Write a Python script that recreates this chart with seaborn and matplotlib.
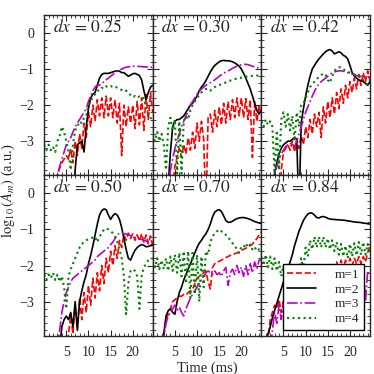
import numpy as np
import pandas as pd
import matplotlib
matplotlib.use('Agg')
import matplotlib.pyplot as plt
from matplotlib.ticker import MultipleLocator, FixedLocator
import seaborn as sns

# time axis (ms), shared by every curve
time_ms = [0.0, 0.5, 1.0, 1.5, 2.0, 2.5, 3.0, 3.5, 4.0, 4.5,
           5.0, 5.5, 6.0, 6.5, 7.0, 7.5, 8.0, 8.5, 9.0, 9.5,
           10.0, 10.5, 11.0, 11.5, 12.0, 12.5, 13.0, 13.5, 14.0, 14.5,
           15.0, 15.5, 16.0, 16.5, 17.0, 17.5, 18.0, 18.5, 19.0, 19.5,
           20.0, 20.5, 21.0, 21.5, 22.0, 22.5, 23.0, 23.5, 24.0, 24.5]

panel_dx = ["0.25", "0.30", "0.42", "0.50", "0.70", "0.84"]
mode_labels = ["m=1", "m=2", "m=3", "m=4"]
x_ticks = [5, 10, 15, 20]
y_ticks = [0, -1, -2, -3]

# log10(A_m) (-5 = below the axis)
# dx = 0.25
m1_025 = [-5, -5, -5, -5, -5, -5, -3.9, -3.75, -3.6, -3.5,
          -3.4, -3.5, -3.2, -3.6, -3.0, -3.4, -2.8, -3.2, -2.5, -2.9,
          -2.2, -2.6, -2.0, -2.45, -1.85, -2.3, -1.8, -2.35, -1.75, -2.3,
          -1.8, -2.35, -1.85, -2.5, -1.95, -3.4, -2.0, -2.6, -2.05, -2.5,
          -2.0, -2.65, -1.9, -2.55, -1.8, -2.7, -1.7, -2.4, -1.65, -2.2]
m2_025 = [-5, -5, -5, -5, -5, -5, -5, -5, -5, -5,
          -5, -5, -5, -5, -3.8, -3.1, -3.05, -3.0, -3.3, -2.6,
          -2.1, -1.8, -1.7, -1.65, -1.45, -1.25, -1.15, -1.12, -1.12, -1.12,
          -1.1, -1.08, -1.06, -1.05, -1.06, -1.1, -1.1, -1.15, -1.2, -1.17,
          -1.13, -1.12, -1.15, -1.18, -1.3, -1.6, -1.85, -1.65, -1.5, -1.45]
m3_025 = [-5, -5, -5, -5, -5, -5, -4.0, -3.7, -3.5, -3.3,
          -3.1, -3.0, -2.9, -2.75, -2.6, -2.5, -2.4, -2.3, -2.2, -2.1,
          -1.9, -1.75, -1.6, -1.5, -1.45, -1.45, -1.4, -1.35, -1.3, -1.25,
          -1.2, -1.15, -1.1, -1.06, -1.03, -1.0, -0.97, -0.95, -0.94, -0.93,
          -0.92, -0.92, -0.92, -0.93, -0.93, -0.94, -0.94, -0.95, -0.95, -0.95]
m4_025 = [-3.1, -3.25, -3.1, -3.25, -3.15, -3.3, -3.0, -2.85, -2.6, -2.75,
          -3.0, -3.3, -3.8, -3.1, -2.7, -2.6, -2.45, -2.5, -2.35, -2.3,
          -2.0, -1.9, -1.75, -1.7, -1.6, -1.6, -1.52, -1.55, -1.48, -1.5,
          -1.47, -1.5, -1.48, -1.52, -1.55, -1.58, -1.62, -1.6, -1.68, -1.72,
          -1.78, -1.75, -1.8, -1.76, -1.82, -1.8, -2.05, -2.2, -2.35, -2.4]

# dx = 0.30
m1_030 = [-5, -5, -5, -5, -5, -5, -5, -5, -5, -4.3,
          -3.7, -3.45, -3.2, -3.45, -3.1, -3.35, -2.9, -3.25, -2.75, -3.2,
          -2.5, -3.0, -2.45, -2.95, -5.0, -2.35, -2.25, -2.75, -2.15, -2.6,
          -2.05, -2.55, -1.95, -2.5, -1.9, -2.4, -1.85, -2.35, -1.8, -2.3,
          -1.8, -2.35, -1.82, -2.4, -1.85, -3.45, -1.9, -2.45, -2.0, -2.3]
m2_030 = [-5, -5, -5, -5, -5, -5, -5, -4.2, -3.3, -2.6,
          -2.45, -2.4, -2.4, -2.35, -2.3, -2.2, -2.1, -2.0, -1.95, -1.85,
          -1.75, -1.6, -1.5, -1.42, -1.32, -1.2, -1.08, -0.98, -0.9, -0.85,
          -0.8, -0.77, -0.76, -0.77, -0.77, -0.78, -0.8, -0.83, -0.87, -0.92,
          -1.0, -1.12, -1.25, -1.4, -1.55, -1.75, -1.95, -2.15, -2.25, -2.15]
m3_030 = [-5, -5, -5, -5, -5, -5, -5, -4.1, -3.8, -3.5,
          -3.2, -3.0, -2.8, -2.6, -2.45, -2.3, -2.15, -2.0, -1.9, -1.8,
          -1.7, -1.62, -1.55, -1.5, -1.45, -1.42, -1.38, -1.34, -1.3, -1.25,
          -1.2, -1.16, -1.12, -1.08, -1.05, -1.02, -0.98, -0.95, -0.92, -0.9,
          -0.88, -0.87, -0.87, -0.88, -0.9, -0.92, -0.94, -0.96, -0.97, -0.98]
m4_030 = [-2.8, -3.0, -2.75, -3.0, -2.8, -3.1, -3.8, -2.6, -2.35, -2.7,
          -2.4, -3.9, -2.45, -3.9, -2.45, -2.3, -2.4, -2.15, -2.0, -1.9,
          -1.8, -1.72, -1.65, -1.6, -1.55, -1.55, -1.6, -1.55, -1.5, -1.47,
          -1.45, -1.42, -1.4, -1.37, -1.34, -1.32, -1.3, -1.28, -1.26, -1.25,
          -1.24, -1.22, -1.21, -1.2, -1.19, -1.19, -1.18, -1.18, -1.18, -1.18]

# dx = 0.42
m1_042 = [-5, -5, -5, -5, -5, -5, -5, -5, -5, -3.8,
          -3.3, -3.2, -3.1, -3.25, -3.0, -3.3, -2.95, -3.2, -2.85, -3.1,
          -2.6, -2.9, -2.4, -2.8, -2.25, -2.6, -2.2, -2.9, -2.05, -2.5,
          -1.9, -2.35, -1.8, -2.25, -1.65, -2.1, -1.55, -1.95, -1.45, -1.8,
          -1.35, -1.65, -1.25, -1.55, -1.15, -1.45, -1.1, -1.35, -1.05, -1.3]
m2_042 = [-5, -5, -5, -5, -5, -4.3, -3.9, -3.6, -3.35, -3.2,
          -3.1, -3.05, -3.0, -3.0, -2.95, -2.9, -2.95, -5.0, -2.5, -2.1,
          -1.75, -1.45, -1.2, -1.0, -0.9, -0.8, -0.72, -0.65, -0.58, -0.52,
          -0.48, -0.46, -0.5, -0.58, -0.55, -0.52, -0.55, -0.62, -0.65, -0.72,
          -0.9, -1.1, -1.2, -1.25, -1.3, -1.32, -1.35, -1.4, -1.45, -1.35]
m3_042 = [-5, -5, -5, -5, -5, -4.2, -3.9, -3.7, -3.5, -3.35,
          -3.25, -3.15, -3.1, -3.05, -3.1, -3.15, -3.0, -2.8, -2.6, -2.4,
          -2.2, -2.05, -1.9, -1.75, -1.62, -1.5, -1.42, -1.35, -1.3, -1.25,
          -1.2, -1.15, -1.1, -1.08, -1.06, -1.05, -1.05, -1.06, -1.08, -1.1,
          -1.12, -1.14, -1.16, -1.18, -1.2, -1.2, -1.22, -1.23, -1.24, -1.25]
m4_042 = [-2.45, -2.6, -2.4, -2.55, -2.45, -2.6, -3.9, -2.7, -3.8, -2.4,
          -2.2, -2.6, -2.25, -2.7, -2.3, -3.0, -2.2, -2.6, -2.0, -1.95,
          -1.8, -1.65, -1.5, -1.42, -1.35, -1.28, -1.22, -1.17, -1.12, -1.15,
          -1.3, -1.38, -1.2, -1.05, -0.98, -0.95, -0.95, -1.0, -1.05, -1.08,
          -1.1, -1.12, -1.15, -1.17, -1.2, -1.23, -1.3, -1.4, -1.42, -1.3]

# dx = 0.50
m1_050 = [-5, -5, -5, -5, -5, -5, -5, -5, -5, -5,
          -4.2, -3.9, -3.4, -3.9, -3.1, -3.7, -2.9, -3.5, -2.75, -3.3,
          -2.55, -3.1, -2.35, -2.9, -2.2, -2.7, -2.0, -2.5, -1.8, -2.2,
          -1.6, -2.0, -1.45, -1.8, -1.3, -1.5, -1.15, -1.3, -1.1, -1.25,
          -1.12, -1.3, -1.15, -1.32, -1.12, -1.35, -1.15, -1.4, -1.18, -1.45]
m2_050 = [-5, -5, -5, -5, -5, -5, -5, -4.3, -3.7, -3.5,
          -3.4, -3.5, -3.3, -3.7, -3.0, -3.8, -3.0, -2.7, -2.45, -2.25,
          -1.95, -1.72, -1.45, -1.15, -0.85, -0.6, -0.48, -0.43, -0.45, -0.6,
          -0.72, -0.62, -0.56, -0.6, -0.72, -0.95, -1.25, -1.55, -1.8, -1.85,
          -1.7, -1.58, -1.5, -1.45, -1.42, -1.44, -1.48, -1.47, -1.45, -1.43]
m3_050 = [-5, -5, -5, -5, -5, -5, -4.2, -3.8, -3.3, -3.0,
          -2.75, -2.6, -2.45, -2.35, -2.3, -2.25, -2.2, -2.15, -2.1, -2.05,
          -2.0, -1.95, -1.9, -1.85, -1.75, -1.7, -1.65, -1.6, -1.55, -1.5,
          -1.42, -1.35, -1.25, -1.15, -1.1, -1.1, -1.12, -1.13, -1.15, -1.17,
          -1.2, -1.22, -1.24, -1.26, -1.28, -1.3, -1.32, -1.33, -1.35, -1.36]
m4_050 = [-2.25, -2.4, -2.25, -2.35, -2.2, -2.4, -2.25, -2.45, -2.3, -2.6,
          -3.2, -2.3, -2.1, -1.95, -1.8, -1.65, -1.5, -1.4, -1.35, -1.3,
          -1.27, -1.25, -1.22, -1.2, -1.35, -1.2, -1.1, -1.0, -0.97, -1.0,
          -1.05, -1.1, -1.2, -1.35, -1.55, -1.8, -2.3, -3.35, -2.5, -2.15,
          -2.1, -2.15, -2.3, -3.2, -2.3, -2.05, -1.95, -1.85, -1.82, -1.8]

# dx = 0.70
m1_070 = [-5, -5, -5, -5, -4.3, -3.9, -3.5, -3.35, -3.2, -3.0,
          -2.95, -2.9, -2.85, -2.85, -2.8, -2.82, -2.75, -2.7, -2.65, -2.5,
          -2.35, -2.3, -2.25, -2.2, -2.15, -2.45, -2.65, -2.05, -1.95, -1.92,
          -1.88, -1.85, -1.82, -1.78, -1.75, -1.72, -1.7, -1.67, -1.65, -1.62,
          -1.58, -1.55, -1.52, -1.48, -1.45, -1.4, -1.33, -1.25, -1.15, -1.07]
m2_070 = [-5, -5, -5, -5, -4.5, -3.9, -3.4, -3.25, -3.2, -3.3,
          -3.35, -3.0, -2.75, -2.6, -2.4, -2.25, -2.1, -1.95, -1.8, -1.65,
          -1.5, -1.38, -1.3, -1.2, -1.12, -1.0, -0.85, -0.65, -0.52, -0.47,
          -0.45, -0.5, -0.62, -0.75, -0.8, -0.8, -0.77, -0.73, -0.7, -0.68,
          -0.67, -0.67, -0.68, -0.7, -0.72, -0.75, -0.78, -0.8, -0.82, -0.83]
m3_070 = [-5, -5, -5, -5, -4.5, -4.0, -3.6, -3.4, -3.3, -3.2,
          -3.1, -3.25, -3.15, -3.3, -3.4, -3.2, -3.05, -2.9, -2.8, -2.7,
          -2.6, -2.5, -2.4, -2.3, -2.2, -2.15, -2.2, -2.25, -2.15, -2.25,
          -2.2, -2.3, -2.15, -2.05, -2.55, -2.2, -2.1, -2.25, -2.0, -2.2,
          -2.05, -2.3, -2.0, -2.25, -1.95, -2.2, -1.9, -2.1, -1.85, -1.85]
m4_070 = [-1.85, -2.05, -1.8, -2.1, -1.85, -2.1, -1.8, -2.15, -1.75, -2.15,
          -1.7, -2.2, -1.65, -2.3, -1.6, -2.5, -1.6, -2.9, -1.65, -2.8,
          -1.7, -3.0, -1.75, -2.6, -1.6, -1.7, -1.35, -1.2, -1.1, -1.05,
          -1.0, -1.05, -1.08, -1.15, -1.2, -1.3, -1.38, -1.45, -1.55, -1.65,
          -1.48, -1.5, -1.38, -1.5, -1.42, -1.55, -1.48, -1.6, -1.55, -1.6]

# dx = 0.84
m1_084 = [-5, -5, -5, -4.2, -3.5, -3.3, -3.1, -3.2, -2.95, -3.3,
          -3.0, -3.35, -2.9, -3.3, -2.8, -3.2, -2.7, -3.1, -2.6, -3.0,
          -2.5, -2.85, -2.4, -2.75, -2.3, -2.6, -2.2, -2.5, -2.1, -2.4,
          -2.0, -2.3, -1.95, -2.2, -1.9, -2.15, -1.85, -2.1, -1.85, -2.05,
          -1.8, -2.0, -1.8, -1.95, -1.75, -1.95, -1.75, -1.9, -1.65, -1.45]
m2_084 = [-5, -5, -4.2, -3.9, -3.7, -3.45, -3.25, -3.05, -2.85, -2.65,
          -2.45, -2.3, -2.1, -1.9, -1.7, -1.45, -1.25, -1.05, -0.9, -0.75,
          -0.65, -0.57, -0.54, -0.55, -0.6, -0.67, -0.68, -0.65, -0.64, -0.66,
          -0.69, -0.71, -0.72, -0.72, -0.73, -0.73, -0.74, -0.74, -0.75, -0.76,
          -0.77, -0.78, -0.79, -0.8, -0.8, -0.81, -0.82, -0.83, -0.84, -0.85]
m3_084 = [-5, -5, -5, -5, -4.5, -3.8, -3.3, -3.6, -3.1, -3.5,
          -3.0, -3.4, -3.1, -3.5, -3.0, -3.3, -2.9, -3.2, -2.8, -3.1,
          -2.8, -3.0, -2.7, -2.95, -2.6, -2.9, -2.6, -2.85, -2.5, -2.8,
          -2.5, -2.75, -2.4, -2.7, -2.4, -2.65, -2.35, -2.6, -2.3, -2.55,
          -2.3, -2.5, -2.25, -2.5, -2.2, -2.45, -2.1, -3.0, -2.15, -2.3]
m4_084 = [-1.75, -2.0, -1.7, -2.05, -1.75, -2.1, -1.8, -2.15, -1.9, -2.3,
          -2.0, -2.45, -2.05, -2.6, -2.1, -2.55, -2.0, -2.3, -1.8, -2.1,
          -1.5, -1.75, -1.3, -1.55, -1.2, -1.5, -1.2, -1.5, -1.2, -1.5,
          -1.25, -1.55, -1.3, -1.6, -1.35, -1.7, -1.4, -1.75, -1.45, -1.8,
          -1.4, -1.75, -1.38, -1.72, -1.35, -1.7, -1.35, -1.7, -1.4, -1.7]

panel_curves = [
    [m1_025, m2_025, m3_025, m4_025],
    [m1_030, m2_030, m3_030, m4_030],
    [m1_042, m2_042, m3_042, m4_042],
    [m1_050, m2_050, m3_050, m4_050],
    [m1_070, m2_070, m3_070, m4_070],
    [m1_084, m2_084, m3_084, m4_084],
]

mode_styles = [
    dict(color="r", linestyle="--", linewidth=1.2),
    dict(color="k", linestyle="-", linewidth=1.2),
    dict(color="m", linestyle="-.", linewidth=1.2),
    dict(color="g", linestyle=":", linewidth=1.5),
]

sns.set_style("ticks")
plt.rcParams["font.family"] = ["Liberation Serif", "DejaVu Serif"]
plt.rcParams["mathtext.fontset"] = "stix"
plt.rcParams["axes.unicode_minus"] = True

fig, axes = plt.subplots(2, 3, figsize=(3.74, 3.74), dpi=100,
                         sharex=True, sharey=True)
fig.subplots_adjust(left=0.118, right=0.989, top=0.96, bottom=0.102,
                    wspace=0, hspace=0)

for i, ax in enumerate(axes.flat):
    for j, vals in enumerate(panel_curves[i]):
        df = pd.DataFrame({"t": time_ms, "v": vals})
        lab = mode_labels[j] if i == 5 else None
        sns.lineplot(data=df, x="t", y="v", ax=ax, label=lab,
                     estimator=None, sort=False, **mode_styles[j])
    ax.text(0.08, 0.975, r"$dx\, =\, %s$" % panel_dx[i], transform=ax.transAxes,
            ha="left", va="top", fontsize=12.5)
    ax.set_xlim(0, 24.5)
    ax.set_ylim(-3.95, 0.5)
    ax.xaxis.set_major_locator(FixedLocator(x_ticks))
    ax.xaxis.set_minor_locator(MultipleLocator(1))
    ax.yaxis.set_major_locator(FixedLocator(y_ticks))
    ax.yaxis.set_minor_locator(MultipleLocator(0.2))
    ax.tick_params(which="both", direction="in", top=True, right=True,
                   labelsize=10, pad=7)
    ax.tick_params(which="major", length=4, width=0.8)
    ax.tick_params(which="minor", length=2, width=0.6)
    for sp in ax.spines.values():
        sp.set_linewidth(1.0)
    ax.set_xlabel("")
    ax.set_ylabel("")
    if i != 5 and ax.get_legend() is not None:
        ax.get_legend().remove()

axes[1, 1].set_xlabel("Time (ms)", fontsize=10.5, labelpad=2)
fig.text(0.022, 0.49, r"$\log_{10}(A_m)$ (a.u.)", rotation=90,
         ha="center", va="center", fontsize=10.5)

leg = axes[1, 2].legend(loc="lower right", fontsize=9.5, frameon=True,
                        fancybox=False, framealpha=1, edgecolor="k",
                        handlelength=2.2, handletextpad=1.4,
                        labelspacing=0.2, borderaxespad=0.45,
                        borderpad=0.35)
leg.get_frame().set_linewidth(1.0)

fig.savefig("out.png", dpi=100)
plt.close("all")
